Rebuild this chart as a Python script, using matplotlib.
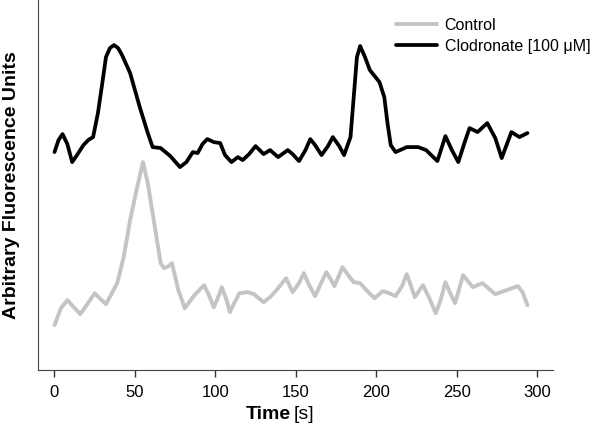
import matplotlib
matplotlib.use('Agg')
import matplotlib.pyplot as plt

plt.rcParams['font.family'] = ['Liberation Sans', 'DejaVu Sans']

# Clodronate [100 uM] trace (arbitrary units)
clod_t = [0, 2.5, 5, 8, 11, 14, 18, 21, 24, 27, 30, 32, 34.5, 37, 39.5, 42, 47, 53, 58, 61, 66, 72,
          78, 82, 86, 89, 92, 95, 99, 103, 106, 110, 114, 117, 121, 125, 130, 134, 139, 145, 148,
          152, 156, 159, 162, 166, 170, 173, 177, 180, 184, 186, 188, 190, 193, 196, 202, 205, 207,
          209, 212, 219, 226, 231, 238, 243, 247, 251, 255, 258, 263, 269, 274, 278, 281, 284, 289,
          294]
clod_y = [218, 230, 236, 226, 208, 215, 225, 230, 233, 257, 290, 313, 322, 325, 322, 315, 297, 263,
          237, 223, 222, 214, 203, 208, 218, 217, 226, 231, 228, 227, 215, 208, 213, 210, 216, 224,
          216, 220, 213, 220, 216, 209, 220, 231, 225, 215, 224, 233, 224, 215, 233, 273, 313, 324,
          313, 300, 288, 273, 247, 225, 218, 223, 223, 220, 209, 234, 220, 208, 228, 242, 238, 247,
          232, 212, 225, 238, 233, 237]

# Control trace
ctrl_t = [0, 4, 8, 12, 16, 20, 25, 28, 32, 36, 39, 43, 47, 51, 55, 58, 62, 66, 68, 71, 73, 77, 81,
          87, 93, 96, 99, 102, 104, 107, 109, 112, 115, 120, 124, 130, 134, 138, 144, 148, 152,
          155, 158, 162, 166, 169, 172, 174, 177, 179, 183, 186, 190, 195, 199, 204, 208, 212, 216,
          219, 224, 229, 233, 237, 240, 243, 246, 249, 254, 260, 266, 274, 281, 288, 291, 294]
ctrl_y = [45, 62, 70, 63, 56, 65, 77, 72, 66, 78, 87, 113, 150, 180, 208, 187, 147, 107, 102, 104,
          107, 80, 62, 75, 85, 75, 63, 74, 83, 70, 58, 68, 77, 78, 76, 68, 73, 80, 92, 78, 87, 97,
          86, 74, 88, 98, 90, 84, 95, 103, 94, 88, 87, 78, 72, 79, 77, 74, 84, 96, 73, 85, 72, 57,
          70, 88, 77, 67, 95, 83, 87, 76, 80, 84, 78, 65]

xticks = [0, 50, 100, 150, 200, 250, 300]

fig = plt.figure(figsize=(6, 4.34), dpi=100)
ax = fig.add_axes([0.064, 0.147, 0.858, 0.853])

ax.plot(ctrl_t, ctrl_y, color='#c4c4c4', lw=2.8, label='Control',
        solid_joinstyle='round', solid_capstyle='round')
ax.plot(clod_t, clod_y, color='black', lw=2.7, label='Clodronate [100 μM]',
        solid_joinstyle='round', solid_capstyle='round')

ax.set_xlim(-10, 310)
ax.set_ylim(0, 370)
ax.set_xticks(xticks)
ax.tick_params(axis='x', labelsize=12, length=5, width=1, pad=6, colors='#333333', labelcolor='black')
ax.set_yticks([])
ax.spines['top'].set_visible(False)
ax.spines['right'].set_visible(False)
for s in ['left', 'bottom']:
    ax.spines[s].set_color('#444444')

ax.set_ylabel('Arbitrary Fluorescence Units', fontsize=14, fontweight='bold', labelpad=13)
ax.text(0.49, -0.119, 'Time', transform=ax.transAxes, ha='right', va='center',
        fontsize=14, fontweight='bold')
ax.text(0.496, -0.119, '[s]', transform=ax.transAxes, ha='left', va='center', fontsize=14)

ax.legend(loc='upper right', bbox_to_anchor=(1.1, 0.99), frameon=False, fontsize=11.5,
          handlelength=2.6, handletextpad=0.45, labelspacing=0.35)

fig.savefig('out.png', dpi=100)
